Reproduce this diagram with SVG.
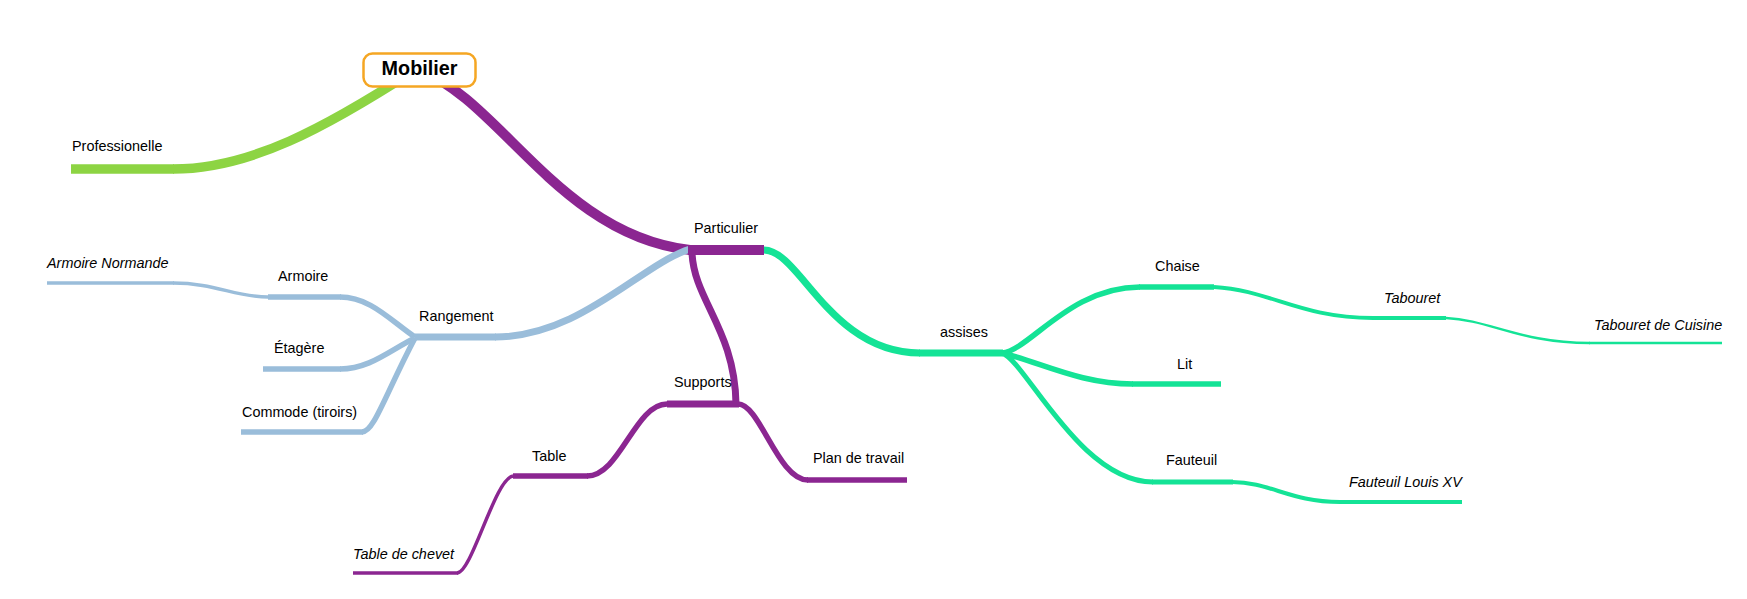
<svg xmlns="http://www.w3.org/2000/svg" width="1747" height="599" viewBox="0 0 1747 599">
<style>
  text { font-family: "Liberation Sans", Arial, sans-serif; font-size: 14.4px; fill: #000; }
  .it { font-style: italic; }
  .root { font-size: 19.8px; font-weight: bold; }
  path, line { fill: none; stroke-linecap: butt; }
  .lime { stroke: #8DD443; }
  .purple { stroke: #8B2691; }
  .blue { stroke: #9ABDDA; }
  .teal { stroke: #14E396; }
</style>
<rect width="1747" height="599" fill="#fff"/>
<g id="connectors">
  <path class="lime" stroke-width="9.5" d="M 173 169 C 250 169, 325 128, 415 70"/>
  <path class="purple" stroke-width="10" d="M 419 70 C 500 100, 560 235, 690 250"/>
  <path class="blue" stroke-width="7" d="M 495 337 C 580 337, 640 265, 690 249"/>
  <path class="blue" stroke-width="5.5" d="M 340 297 C 370 297, 390 320, 415 337"/>
  <path class="blue" stroke-width="5.5" d="M 340 369 C 370 369, 390 350, 415 338"/>
  <path class="blue" stroke-width="5.5" d="M 362 432 C 374 432, 385 395, 415 338"/>
  <path class="blue" stroke-width="3.5" d="M 173 283 C 215 283, 235 297, 268 297"/>
  <path class="purple" stroke-width="7" d="M 692 253 C 694 300, 735 330, 736 404"/>
  <path class="purple" stroke-width="5.5" d="M 587 476 C 620 476, 635 404, 667 404"/>
  <path class="purple" stroke-width="3.5" d="M 457 573 C 472 573, 495 478, 513 476"/>
  <path class="purple" stroke-width="5.5" d="M 738 404 C 760 404, 778 480, 808 480"/>
  <path class="teal" stroke-width="7" d="M 764 250 C 800 250, 830 353, 920 353"/>
  <path class="teal" stroke-width="5.5" d="M 1002 353 C 1030 350, 1070 287, 1140 287"/>
  <path class="teal" stroke-width="5.5" d="M 1002 353 C 1040 362, 1080 384, 1133 384"/>
  <path class="teal" stroke-width="5" d="M 1002 353 C 1025 360, 1080 482, 1153 482"/>
  <path class="teal" stroke-width="4" d="M 1214 287 C 1270 290, 1300 318, 1373 318"/>
  <path class="teal" stroke-width="2.5" d="M 1446 318 C 1490 320, 1520 343, 1590 343"/>
  <path class="teal" stroke-width="4" d="M 1232 482 C 1270 482, 1290 502, 1340 502"/>
</g>
<g id="node-professionelle">
  <line class="lime" stroke-width="9.5" x1="71" y1="169" x2="174" y2="169"/>
  <text x="72" y="151">Professionelle</text>
</g>
<g id="node-particulier">
  <line class="purple" stroke-width="10" x1="688" y1="250" x2="764" y2="250"/>
  <text x="694" y="233">Particulier</text>
</g>
<g id="node-rangement">
  <line class="blue" stroke-width="7" x1="415" y1="337" x2="496" y2="337"/>
  <text x="419" y="321">Rangement</text>
</g>
<g id="node-armoire">
  <line class="blue" stroke-width="5.5" x1="268" y1="297" x2="341" y2="297"/>
  <text x="278" y="280.5">Armoire</text>
</g>
<g id="node-armoire-normande">
  <line class="blue" stroke-width="3.5" x1="47" y1="283" x2="174" y2="283"/>
  <text class="it" x="47" y="268">Armoire Normande</text>
</g>
<g id="node-etagere">
  <line class="blue" stroke-width="5.5" x1="263" y1="369" x2="341" y2="369"/>
  <text x="274" y="352.5">Étagère</text>
</g>
<g id="node-commode">
  <line class="blue" stroke-width="5.5" x1="241" y1="432" x2="363" y2="432"/>
  <text x="242" y="417">Commode (tiroirs)</text>
</g>
<g id="node-supports">
  <line class="purple" stroke-width="7" x1="667" y1="404" x2="739" y2="404"/>
  <text x="674" y="386.5">Supports</text>
</g>
<g id="node-table">
  <line class="purple" stroke-width="5.5" x1="513" y1="476" x2="588" y2="476"/>
  <text x="532" y="460.5">Table</text>
</g>
<g id="node-table-de-chevet">
  <line class="purple" stroke-width="3.5" x1="353" y1="573" x2="458" y2="573"/>
  <text class="it" x="353" y="559">Table de chevet</text>
</g>
<g id="node-plan-de-travail">
  <line class="purple" stroke-width="5.5" x1="807" y1="480" x2="907" y2="480"/>
  <text x="813" y="463">Plan de travail</text>
</g>
<g id="node-assises">
  <line class="teal" stroke-width="7" x1="919" y1="353" x2="1003" y2="353"/>
  <text x="940" y="337">assises</text>
</g>
<g id="node-chaise">
  <line class="teal" stroke-width="5.5" x1="1139" y1="287" x2="1214" y2="287"/>
  <text x="1155" y="271">Chaise</text>
</g>
<g id="node-tabouret">
  <line class="teal" stroke-width="4" x1="1372" y1="318" x2="1446" y2="318"/>
  <text class="it" x="1384" y="303">Tabouret</text>
</g>
<g id="node-tabouret-de-cuisine">
  <line class="teal" stroke-width="2.5" x1="1589" y1="343" x2="1722" y2="343"/>
  <text class="it" x="1594" y="329.5">Tabouret de Cuisine</text>
</g>
<g id="node-lit">
  <line class="teal" stroke-width="5.5" x1="1132" y1="384" x2="1221" y2="384"/>
  <text x="1177" y="369">Lit</text>
</g>
<g id="node-fauteuil">
  <line class="teal" stroke-width="5" x1="1152" y1="482" x2="1233" y2="482"/>
  <text x="1166" y="465">Fauteuil</text>
</g>
<g id="node-fauteuil-louis-xv">
  <line class="teal" stroke-width="4" x1="1339" y1="502" x2="1462" y2="502"/>
  <text class="it" x="1349" y="487">Fauteuil Louis XV</text>
</g>
<g id="node-mobilier">
  <rect x="363.5" y="53.5" width="112" height="33" rx="9" fill="#fff" stroke="#F5A623" stroke-width="2.5"/>
  <text class="root" x="419.5" y="75" text-anchor="middle">Mobilier</text>
</g>
</svg>
